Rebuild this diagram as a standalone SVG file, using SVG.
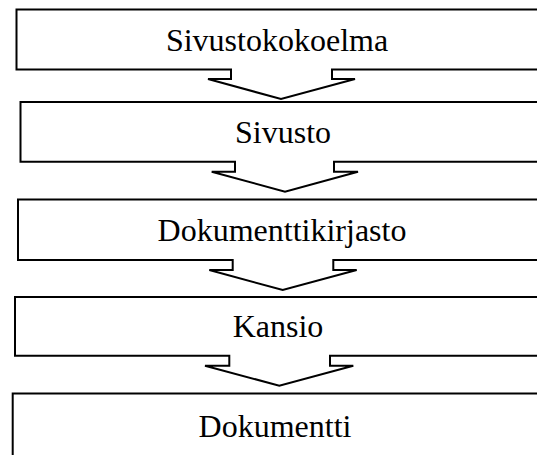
<svg xmlns="http://www.w3.org/2000/svg" width="537" height="455" viewBox="0 0 537 455">
<style>
.box{fill:#fff;stroke:#000;stroke-width:2;stroke-linejoin:miter}
text{font-family:'Liberation Serif','Times New Roman',Times,serif;font-size:32px;fill:#000;text-anchor:middle}
</style>
<rect width="537" height="455" fill="#fff"/>
<g id="connectors"></g>
<g id="node-sivustokokoelma">
<path class="box" d="M16.5,9.5 H560 V69.5 H332 V79 H355 L281,99 L208,79 H231 V69.5 H16.5 Z"/>
<text x="277" y="51" font-family="Liberation Serif, serif">Sivustokokoelma</text>
</g>
<g id="node-sivusto">
<path class="box" d="M20.5,102 H560 V161.7 H334 V171.7 H358 L285,191.7 L211.7,171.7 H235 V161.7 H20.5 Z"/>
<text x="283" y="143" font-family="Liberation Serif, serif">Sivusto</text>
</g>
<g id="node-dokumenttikirjasto">
<path class="box" d="M18,199.5 H560 V260 H333.3 V270 H356.7 L282.7,290 L209.3,270 H232.7 V260 H18 Z"/>
<text x="282" y="241" font-family="Liberation Serif, serif">Dokumenttikirjasto</text>
</g>
<g id="node-kansio">
<path class="box" d="M15,297 H560 V355.7 H330 V365.7 H353.3 L279.3,385.7 L205,365.7 H229.3 V355.7 H15 Z"/>
<text x="278" y="337" font-family="Liberation Serif, serif">Kansio</text>
</g>
<g id="node-dokumentti">
<path class="box" d="M12.7,393.5 H560 V470 H12.7 Z"/>
<text x="275" y="437" font-family="Liberation Serif, serif">Dokumentti</text>
</g>
</svg>
